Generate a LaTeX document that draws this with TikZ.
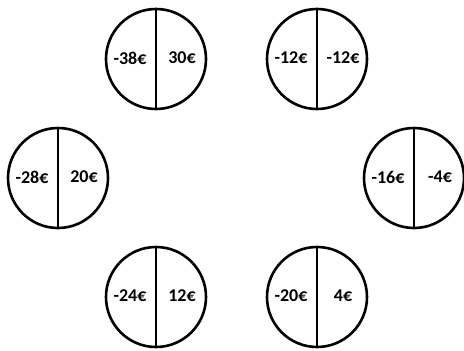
\documentclass[tikz,border=0pt]{standalone}
\usepackage{fontspec}
\setmainfont{Carlito}
\begin{document}
\begin{tikzpicture}[x=1pt,y=-1pt,
  coin/.style={circle,draw=black,line width=2.6pt,minimum size=100pt,inner sep=0pt},
  split/.style={line width=2.6pt},
  amt/.style={font=\fontsize{18}{20}\selectfont\bfseries,inner sep=0pt,anchor=center}]
\useasboundingbox (0,0) rectangle (464,351);
\foreach \n/\x/\y/\a/\b in {1/156/59/-38€/30€, 2/317/59/-12€/-12€, 3/58/178/-28€/20€, 4/414/178/-16€/-4€, 5/156/297/-24€/12€, 6/317/297/-20€/4€}{
  \node[coin] (c\n) at (\x,\y) {};
  \draw[split] (c\n.north) -- (c\n.south);
  \node[amt] (l\n) at ([xshift=-26pt,yshift=1pt]c\n.center) {\a};
  \node[amt] (r\n) at ([xshift=26pt,yshift=1pt]c\n.center) {\b};
}
\end{tikzpicture}
\end{document}
